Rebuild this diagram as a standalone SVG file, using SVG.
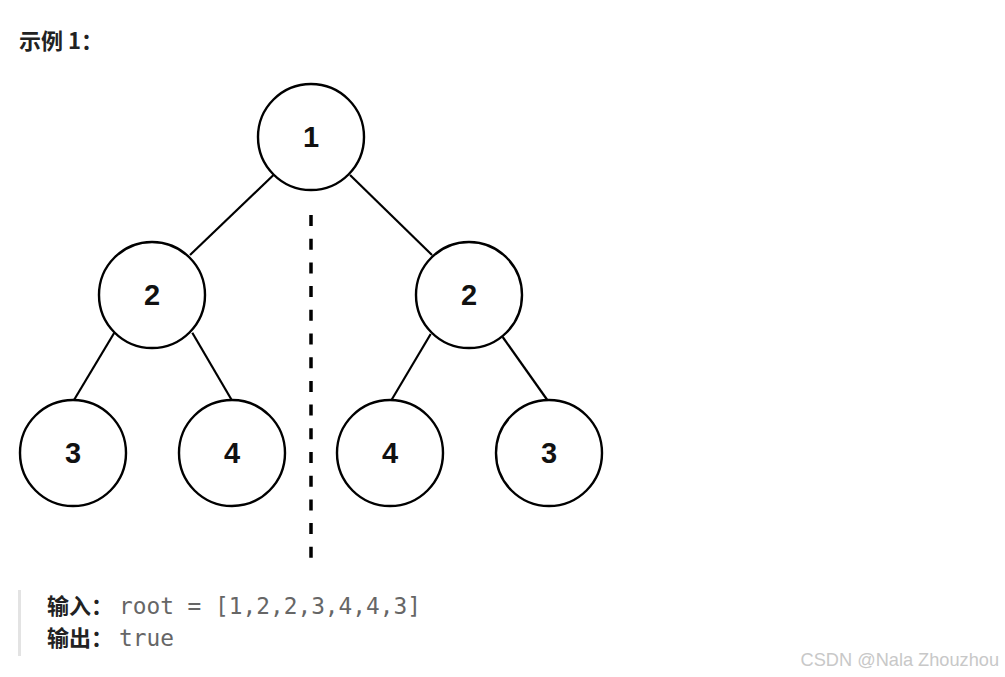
<svg xmlns="http://www.w3.org/2000/svg" width="1005" height="677" viewBox="0 0 1005 677">
<style>
.node circle{fill:#fff;stroke:#000;stroke-width:2.4}
.node text{font-family:"Liberation Sans",Arial,sans-serif;font-weight:bold;font-size:29px;fill:#111;text-anchor:middle;dominant-baseline:central}
.edge{stroke:#000;stroke-width:2.2;fill:none}
.cjk{font-family:"Noto Sans CJK SC","Noto Sans",sans-serif;font-weight:bold;fill:#222}
.mono{font-family:"DejaVu Sans Mono","Liberation Mono",monospace;fill:#666}
</style>
<rect width="1005" height="677" fill="#fff"/>
<text class="cjk" x="19" y="49" font-size="22">示例 1：</text>
<g id="connectors">
<line class="edge" x1="273.5" y1="175" x2="190" y2="255"/>
<line class="edge" x1="350" y1="175" x2="432" y2="255"/>
<line class="edge" x1="114.3" y1="332.7" x2="74" y2="400"/>
<line class="edge" x1="192.3" y1="332.7" x2="231.7" y2="400"/>
<line class="edge" x1="430.7" y1="334" x2="391.5" y2="400"/>
<line class="edge" x1="502.7" y1="337" x2="547.3" y2="400"/>
<line id="divider" x1="311" y1="215" x2="311" y2="558" stroke="#000" stroke-width="3.5" stroke-dasharray="11 12.7"/>
</g>
<g id="n1" class="node"><circle cx="311" cy="137" r="53"/><text x="311" y="137">1</text></g>
<g id="n2a" class="node"><circle cx="152" cy="295" r="53"/><text x="152" y="295">2</text></g>
<g id="n2b" class="node"><circle cx="469" cy="295" r="53"/><text x="469" y="295">2</text></g>
<g id="n3a" class="node"><circle cx="73" cy="453" r="53"/><text x="73" y="453">3</text></g>
<g id="n4a" class="node"><circle cx="232" cy="453" r="53"/><text x="232" y="453">4</text></g>
<g id="n4b" class="node"><circle cx="390" cy="453" r="53"/><text x="390" y="453">4</text></g>
<g id="n3b" class="node"><circle cx="549" cy="453" r="53"/><text x="549" y="453">3</text></g>
<rect x="18" y="590" width="3" height="66" fill="#e3e3e3"/>
<text x="47" y="614" font-size="22"><tspan class="cjk">输入：</tspan><tspan class="mono" x="119" font-size="22.8">root = [1,2,2,3,4,4,3]</tspan></text>
<text x="47" y="646" font-size="22"><tspan class="cjk">输出：</tspan><tspan class="mono" x="119" font-size="22.8">true</tspan></text>
<text x="999" y="666" font-family="Liberation Sans,Arial,sans-serif" font-size="18.2" fill="#c8c8c8" text-anchor="end">CSDN @Nala Zhouzhou</text>
</svg>
